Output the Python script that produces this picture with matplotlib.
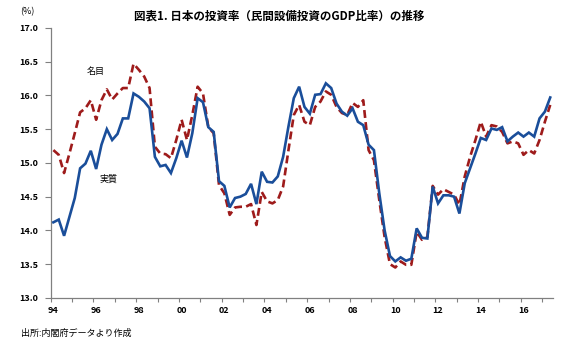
import numpy as np
import matplotlib
matplotlib.use("Agg")
import matplotlib.pyplot as plt

plt.rcParams['font.family'] = ['Noto Sans CJK JP', 'DejaVu Sans']

# 民間設備投資のGDP比率（四半期、1994Q1〜2017Q2、%）
real = [14.12, 14.16, 13.92, 14.20, 14.48, 14.92, 14.99, 15.18, 14.91, 15.27,
        15.50, 15.34, 15.43, 15.66, 15.66, 16.03, 15.98, 15.91, 15.81, 15.09,
        14.95, 14.97, 14.85, 15.07, 15.33, 15.08, 15.44, 15.96, 15.90, 15.53,
        15.46, 14.73, 14.66, 14.34, 14.48, 14.50, 14.54, 14.69, 14.39, 14.87,
        14.72, 14.71, 14.80, 15.09, 15.54, 15.96, 16.13, 15.83, 15.73, 16.01,
        16.02, 16.18, 16.11, 15.88, 15.76, 15.70, 15.81, 15.61, 15.56, 15.27,
        15.19, 14.55, 14.00, 13.62, 13.54, 13.60, 13.55, 13.58, 14.03, 13.89,
        13.88, 14.65, 14.40, 14.52, 14.52, 14.50, 14.25, 14.70, 14.92, 15.14,
        15.37, 15.34, 15.51, 15.49, 15.53, 15.32, 15.39, 15.45, 15.39, 15.45,
        15.39, 15.66, 15.76, 15.97]

nominal = [15.19, 15.12, 14.85, 15.14, 15.44, 15.75, 15.81, 15.93, 15.64, 15.93,
           16.09, 15.94, 16.03, 16.11, 16.11, 16.47, 16.38, 16.28, 16.11, 15.24,
           15.14, 15.13, 15.07, 15.34, 15.64, 15.34, 15.71, 16.13, 16.03, 15.53,
           15.44, 14.67, 14.55, 14.23, 14.34, 14.35, 14.35, 14.39, 14.08, 14.57,
           14.43, 14.40, 14.45, 14.65, 15.19, 15.71, 15.86, 15.61, 15.56, 15.83,
           15.91, 16.06, 16.01, 15.83, 15.74, 15.71, 15.89, 15.83, 15.93, 15.19,
           15.04, 14.45, 13.90, 13.50, 13.45, 13.54, 13.49, 13.49, 13.98, 13.86,
           13.90, 14.66, 14.53, 14.61, 14.57, 14.53, 14.38, 14.80, 15.09, 15.34,
           15.61, 15.39, 15.56, 15.54, 15.46, 15.29, 15.32, 15.29, 15.12, 15.19,
           15.14, 15.34, 15.61, 15.86]

year_labels = ['94', '96', '98', '00', '02', '04', '06', '08', '10', '12', '14', '16']

blue = '#1a4e9a'
red = '#9e1b1b'

fig = plt.figure(figsize=(5.7, 3.5), dpi=100)
ax = fig.add_axes([0.089, 0.149, 0.881, 0.771])

x = np.arange(len(real))
ax.plot(x, real, color=blue, linewidth=1.9, solid_joinstyle='miter', zorder=3)
ax.plot(x, nominal, color=red, linewidth=1.9, dashes=(3.0, 1.6), zorder=2)

# 系列名（グラフ内に直接記入）
ax.text(8.0, 16.35, '名目', fontsize=6.5, ha='center', va='center')
ax.text(10.3, 14.76, '実質', fontsize=6.5, ha='center', va='center')

# 横軸：年の区切りに目盛、偶数年の第1四半期にラベル
ax.set_xlim(-0.5, len(real) - 0.5)
ax.set_xticks(np.arange(-0.5, len(real) - 0.5, 4))
ax.set_xticklabels([])
ax.set_xticks(np.arange(0, len(year_labels) * 8, 8), minor=True)
ax.set_xticklabels(year_labels, minor=True, fontsize=6.5, fontweight='bold')
ax.tick_params(axis='x', which='major', direction='out', length=3, width=0.8, color='#808080')
ax.tick_params(axis='x', which='minor', length=0, pad=6)

# 縦軸
ax.set_ylim(13.0, 17.0)
ax.set_yticks(np.arange(13.0, 17.01, 0.5))
ax.set_yticklabels([f'{v:.1f}' for v in np.arange(13.0, 17.01, 0.5)],
                   fontsize=6.5, fontweight='bold')
ax.tick_params(axis='y', direction='out', length=4, width=0.8, color='#808080', pad=5)

for side in ['top', 'right']:
    ax.spines[side].set_visible(False)
for side in ['left', 'bottom']:
    ax.spines[side].set_color('#808080')
    ax.spines[side].set_linewidth(0.9)

fig.text(0.036, 0.967, '(%)', fontsize=6.5, ha='left', va='center')
fig.text(0.49, 0.953, '図表1. 日本の投資率（民間設備投資のGDP比率）の推移',
         fontsize=8.3, fontweight='bold', ha='center', va='center')
fig.text(0.036, 0.048, '出所:内閣府データより作成', fontsize=6.5, ha='left', va='center')

fig.savefig('out.png', dpi=100)
